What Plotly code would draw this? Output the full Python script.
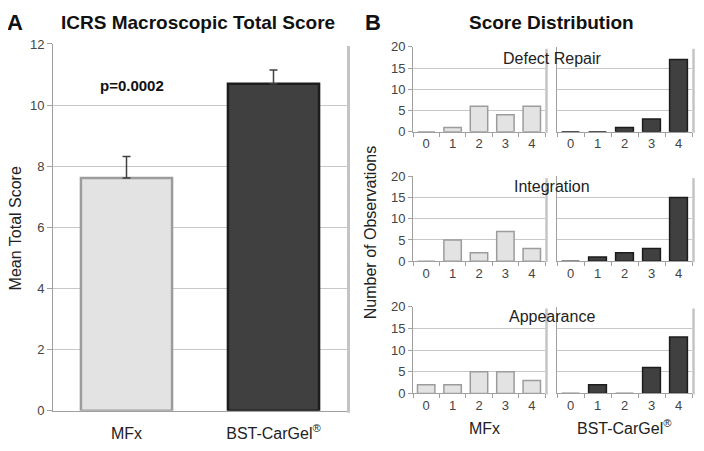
import plotly.graph_objects as go

groups = ["MFx", "BST-CarGel<sup>®</sup>"]
mean_total = [7.62, 10.70]
err_total = [0.70, 0.45]

scores = ["0", "1", "2", "3", "4"]
rows = ["Defect Repair", "Integration", "Appearance"]
mfx_counts = {
    "Defect Repair": [0, 1, 6, 4, 6],
    "Integration": [0, 5, 2, 7, 3],
    "Appearance": [2, 2, 5, 5, 3],
}
bst_counts = {
    "Defect Repair": [0, 0, 1, 3, 17],
    "Integration": [0, 1, 2, 3, 15],
    "Appearance": [0, 2, 0, 6, 13],
}

# figure sized to fit inside the page body (8px default margins) of a 704x451 window
W, H = 688, 435
OFF = 8


def sx(p):
    return (p - OFF) / W


def sy(p):
    return 1 - (p - OFF) / H


FONT = "Liberation Sans, Arial, sans-serif"
LIGHT = "#e3e3e3"
LIGHT_EDGE = "#9c9c9c"
DARK = "#404040"
DARK_EDGE = "#1c1c1c"
GRID = "#c8c8c8"
AXC = "#a0a0a0"
TICKC = "#444444"

fig = go.Figure()

# Panel A
fig.add_trace(go.Bar(
    x=groups, y=mean_total, xaxis="x", yaxis="y",
    marker=dict(color=[LIGHT, DARK], line=dict(color=[LIGHT_EDGE, DARK_EDGE], width=2.5)),
    width=0.62,
    error_y=dict(type="data", symmetric=False, array=err_total, arrayminus=[0, 0],
                 color="#404040", thickness=1.5, width=4),
    showlegend=False,
))

layout = dict(
    width=W, height=H, margin=dict(l=0, r=0, t=0, b=0),
    paper_bgcolor="white", plot_bgcolor="white",
    font=dict(family=FONT, color="#222"),
    showlegend=False,
)
layout["xaxis"] = dict(domain=[sx(53), sx(347)], anchor="y", showline=True, linecolor=AXC,
                       tickfont=dict(size=16, color="#222"), ticks="outside", ticklen=8,
                       tickcolor="rgba(0,0,0,0)", showgrid=False, range=[-0.5, 1.5])
layout["yaxis"] = dict(domain=[sy(418), sy(38)], anchor="x", range=[0, 12], dtick=2,
                       showgrid=True, gridcolor=GRID, showline=True, linecolor=AXC,
                       ticks="outside", ticklen=5, tickcolor=AXC,
                       tickfont=dict(size=13, color=TICKC))

# Panel B small multiples
row_px = [(41, 129), (175, 263), (310, 400)]
col_px = [(413, 545), (557, 692)]
title_y = [53, 186, 320]
idx = 2
shapes = []
annotations = []
for r, name in enumerate(rows):
    t, b = row_px[r]
    for c in range(2):
        xa = f"x{idx}"
        ya = f"y{idx}"
        vals = mfx_counts[name] if c == 0 else bst_counts[name]
        fig.add_trace(go.Bar(
            x=scores, y=vals, xaxis=xa, yaxis=ya,
            marker=dict(color=LIGHT if c == 0 else DARK,
                        line=dict(color=LIGHT_EDGE if c == 0 else DARK_EDGE, width=1.5)),
            width=0.66, showlegend=False,
        ))
        a0, a1 = col_px[c]
        layout[f"xaxis{idx}"] = dict(domain=[sx(a0), sx(a1)], anchor=ya, type="category",
                                     showline=True, linecolor=AXC, ticks="outside",
                                     tickson="boundaries", ticklen=4, tickcolor=AXC,
                                     tickfont=dict(size=13, color=TICKC), showgrid=False)
        layout[f"yaxis{idx}"] = dict(domain=[sy(b), sy(t)], anchor=xa, range=[0, 20], dtick=5,
                                     showgrid=True, gridcolor=GRID, showline=True, linecolor=AXC,
                                     ticks="outside" if c == 0 else "", ticklen=4, tickcolor=AXC,
                                     showticklabels=(c == 0),
                                     tickfont=dict(size=13, color=TICKC))
        shapes.append(dict(type="line", xref="paper", yref="paper",
                           x0=sx(a1 + 1.5), x1=sx(a1 + 1.5), y0=sy(b + 1), y1=sy(t + 2),
                           line=dict(color="#c4c4c4", width=2.5)))
        idx += 1
    annotations.append(dict(text=name, x=sx(552), y=sy(title_y[r]), xref="paper", yref="paper",
                            xanchor="center", yanchor="middle", showarrow=False,
                            font=dict(size=16, color="#222")))

# Panel A right shadow
shapes.append(dict(type="line", xref="paper", yref="paper", x0=sx(348.5), x1=sx(348.5),
                   y0=sy(420), y1=sy(40), line=dict(color="#c4c4c4", width=3)))


def ann(text, x, y, size, color="#111", angle=0):
    return dict(text=text, x=sx(x), y=sy(y), xref="paper", yref="paper", xanchor="center",
                yanchor="middle", showarrow=False, textangle=angle,
                font=dict(size=size, color=color))


annotations += [
    ann("<b>A</b>", 15, 16, 22),
    ann("<b>ICRS Macroscopic Total Score</b>", 198, 16, 19),
    ann("<b>p=0.0002</b>", 132, 81, 15),
    ann("<b>B</b>", 373, 16, 22),
    ann("<b>Score Distribution</b>", 551, 16, 19),
    ann("Mean Total Score", 15, 229, 16, "#222", -90),
    ann("Number of Observations", 370, 234, 16, "#222", -90),
    ann("MFx", 484, 436, 16, "#222"),
    ann("BST-CarGel<sup>®</sup>", 624, 435, 16, "#222"),
]
layout["shapes"] = shapes
layout["annotations"] = annotations
fig.update_layout(**layout)
fig.write_html("out.html", config={"displayModeBar": False})
